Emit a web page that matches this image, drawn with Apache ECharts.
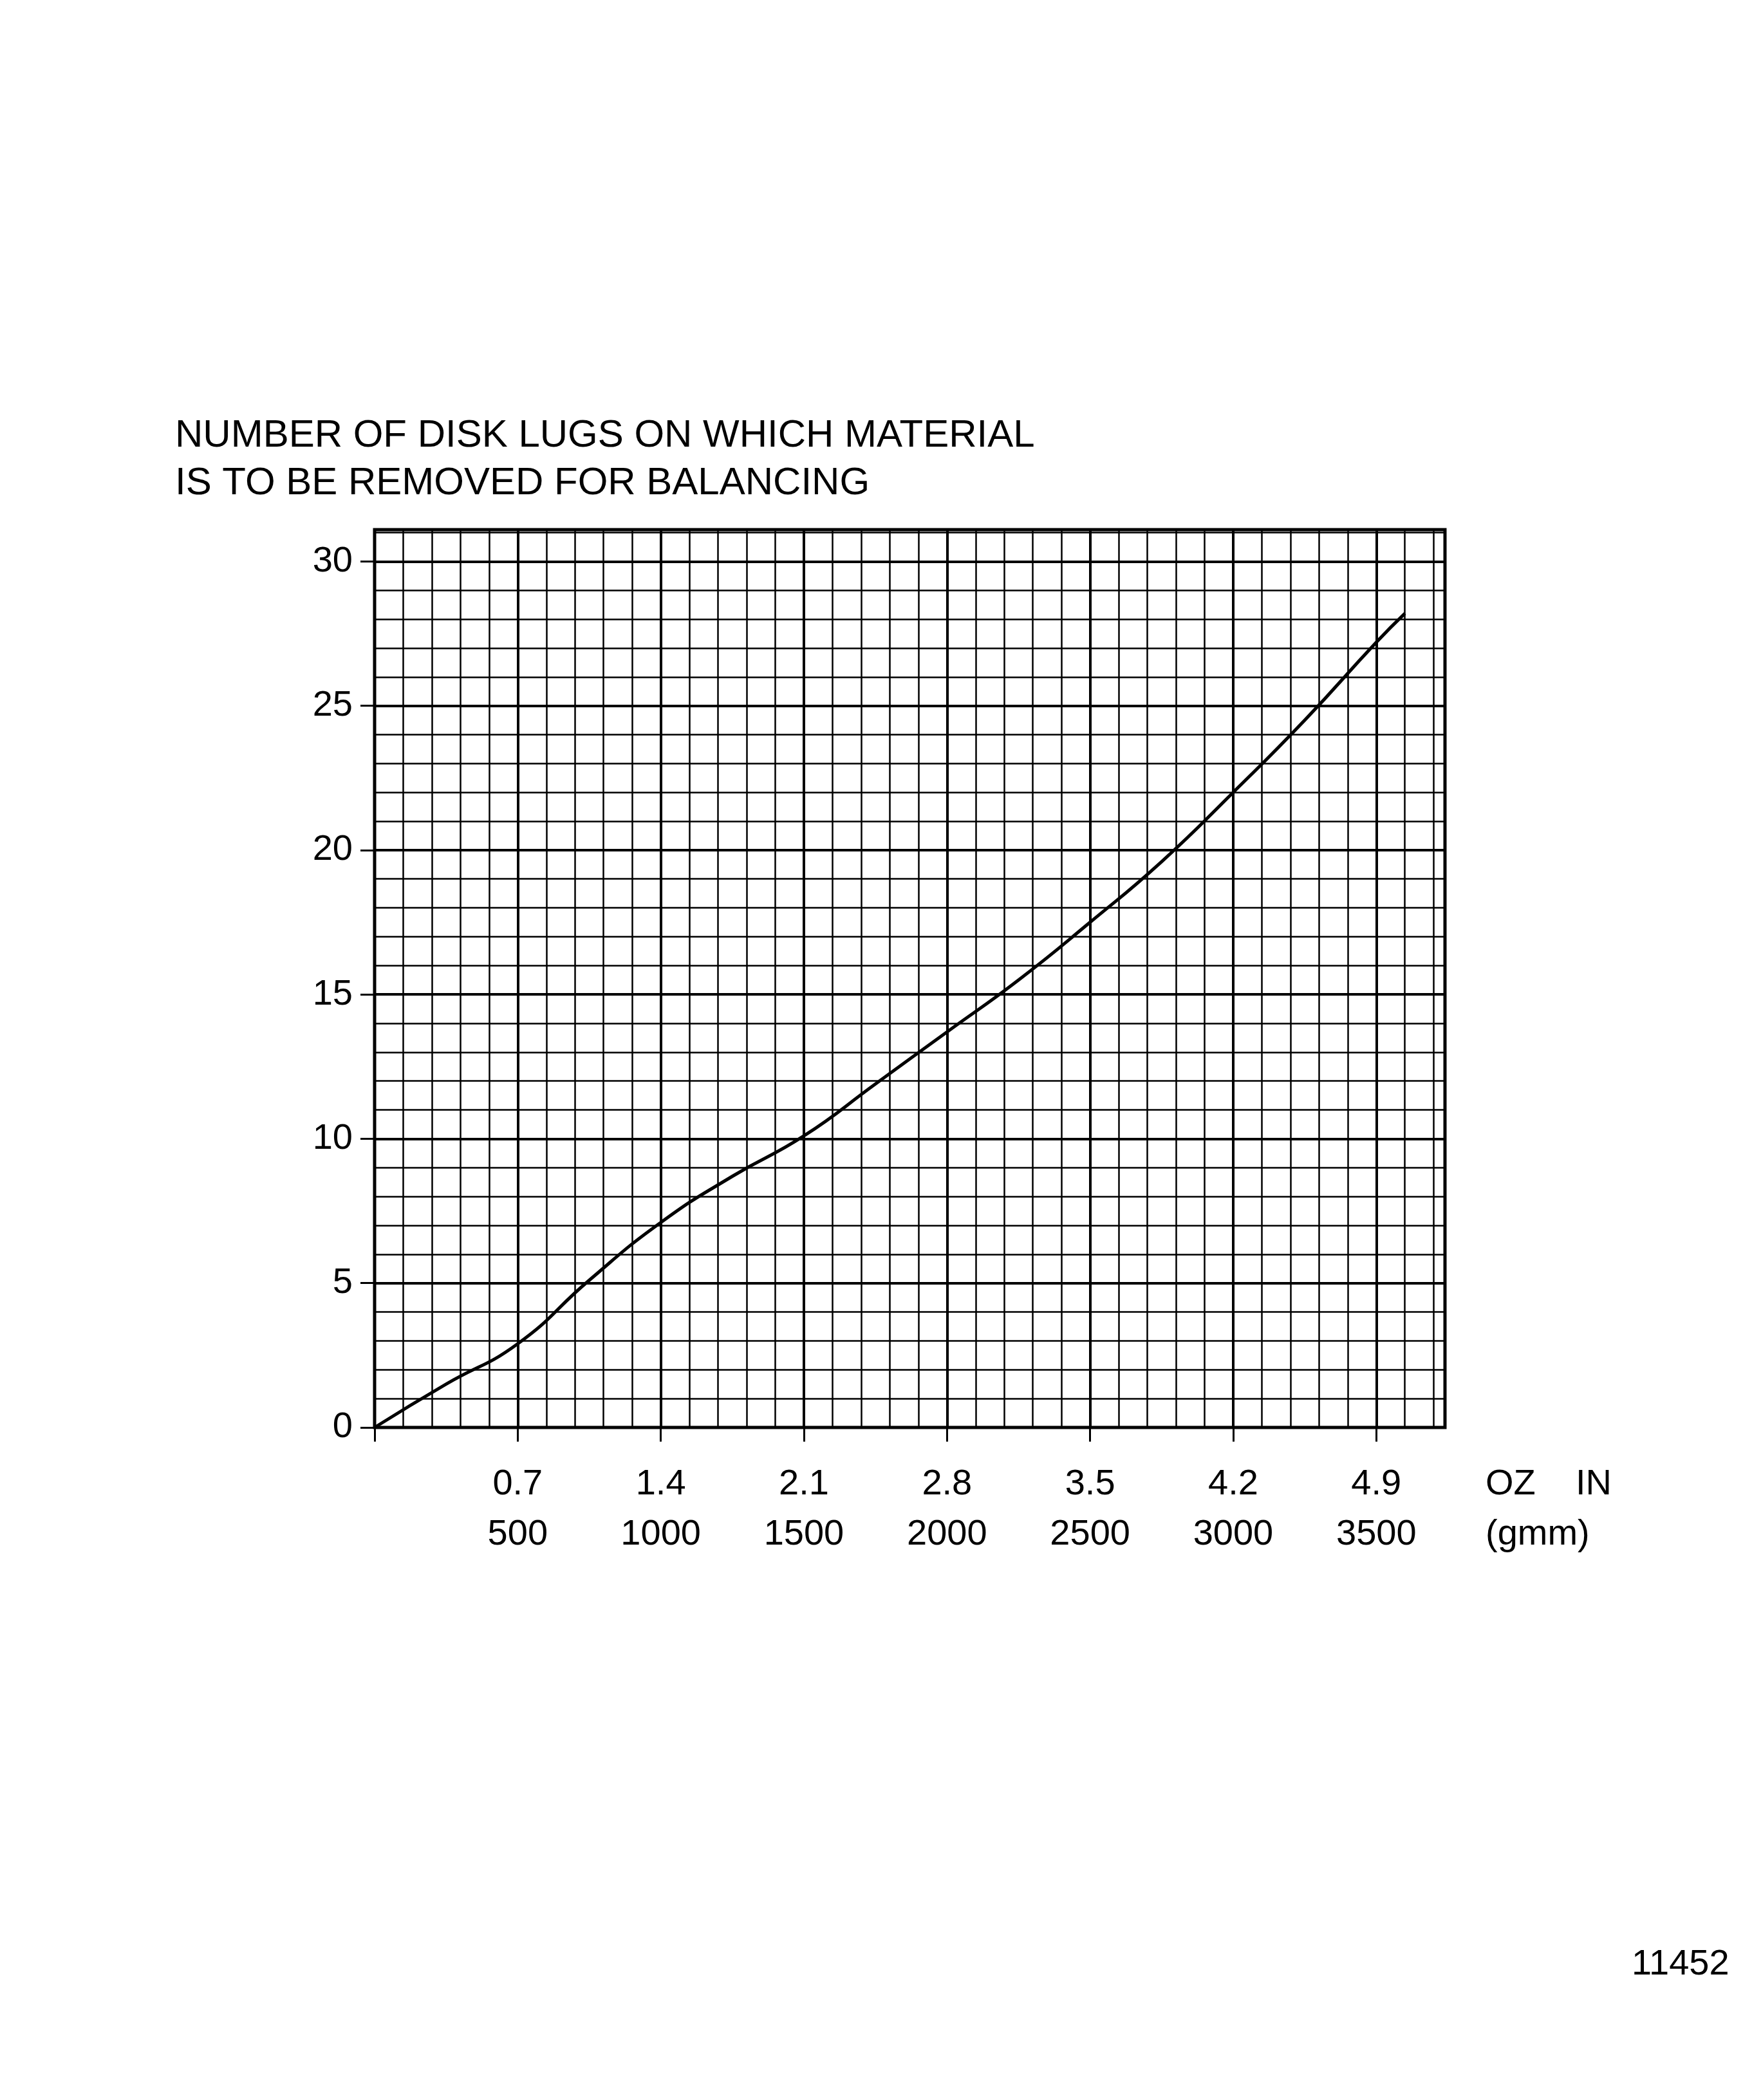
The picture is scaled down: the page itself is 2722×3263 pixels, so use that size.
<!DOCTYPE html>
<html>
<head>
<meta charset="utf-8">
<script src="https://cdn.jsdelivr.net/npm/echarts@6/dist/echarts.min.js"></script>
<style>html,body{margin:0;background:#fff}#c{width:2722px;height:3263px}</style>
</head>
<body>
<div id="c"></div>
<script>
// weight (gmm) vs number of lugs
var gmm = [0, 250, 500, 750, 1000, 1250, 1500, 1750, 2000, 2250, 2500, 2750, 3000, 3250, 3500, 3600]
var lugs = [0, 1.5, 2.9, 5.1, 7.1, 8.7, 10.1, 11.9, 13.7, 15.5, 17.5, 19.6, 22.0, 24.5, 27.2, 28.2]
var ozLabels = {500: '0.7', 1000: '1.4', 1500: '2.1', 2000: '2.8', 2500: '3.5', 3000: '4.2', 3500: '4.9'}

var font = '"Liberation Sans", Arial, sans-serif'
var chart = echarts.init(document.getElementById('c'))
chart.setOption({
  backgroundColor: '#fff',
  animation: false,
  grid: {left: 582, right: 2722 - 2245, top: 823, bottom: 3263 - 2218},
  xAxis: {
    type: 'value', min: 0, max: 3740, interval: 500,
    axisLine: {show: false},
    axisTick: {show: true, length: 22, lineStyle: {color: '#000', width: 3}},
    axisLabel: {
      showMaxLabel: false, margin: 50, color: '#000', fontSize: 56, fontFamily: font, lineHeight: 78,
      formatter: function (v) { return v === 0 ? '' : ozLabels[v] + '\n' + v }
    },
    splitLine: {lineStyle: {color: '#000', width: 4}},
    minorTick: {show: false, splitNumber: 5},
    minorSplitLine: {show: true, lineStyle: {color: '#000', width: 2.5}}
  },
  yAxis: {
    type: 'value', min: 0, max: 31.1, interval: 5,
    axisLine: {show: false},
    axisTick: {show: true, length: 22, lineStyle: {color: '#000', width: 3}},
    axisLabel: {showMaxLabel: false, margin: 34, color: '#000', fontSize: 56, fontFamily: font},
    splitLine: {lineStyle: {color: '#000', width: 4}},
    minorTick: {show: false, splitNumber: 5},
    minorSplitLine: {show: true, lineStyle: {color: '#000', width: 2.5}}
  },
  series: [{
    type: 'line', smooth: true, symbol: 'none',
    data: gmm.map(function (g, i) { return [g, lugs[i]] }),
    lineStyle: {color: '#000', width: 5}
  }],
  graphic: [
    {type: 'rect', shape: {x: 582, y: 823, width: 1663, height: 1395}, style: {fill: 'none', stroke: '#000', lineWidth: 5}},
    {type: 'text', left: 272, top: 640, style: {text: 'NUMBER OF DISK LUGS ON WHICH MATERIAL\nIS TO BE REMOVED FOR BALANCING', font: '60px ' + font, fill: '#000', lineHeight: 74}},
    {type: 'text', left: 2308, top: 2268, style: {text: 'OZ    IN\n(gmm)', font: '56px ' + font, fill: '#000', lineHeight: 78, align: 'left'}},
    {type: 'text', left: 2535, top: 3025, style: {text: '11452', font: '56px ' + font, fill: '#000'}}
  ]
})
</script>
</body>
</html>
